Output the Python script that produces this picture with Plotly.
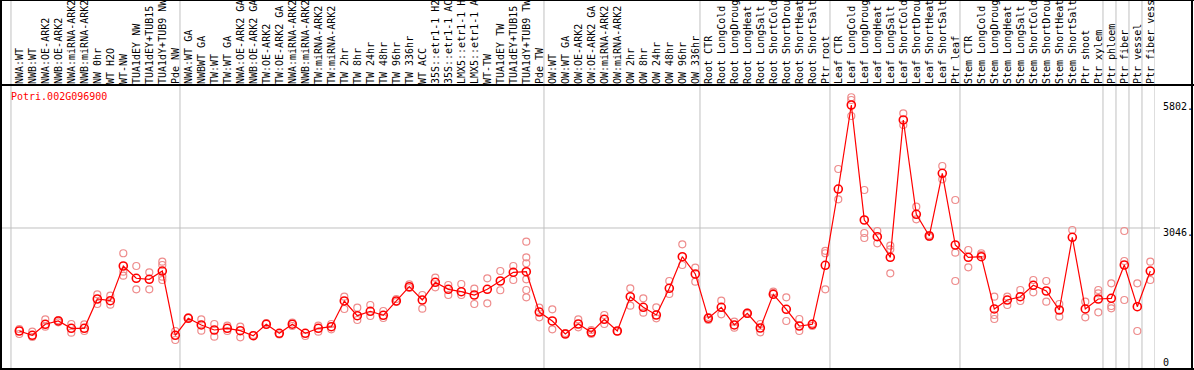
import plotly.graph_objects as go

title = "Potri.002G096900"

labels = [
    "NWA:WT", "NWB:WT", "NWA:OE-ARK2", "NWB:OE-ARK2", "NWA:miRNA-ARK2", "NWB:miRNA-ARK2",
    "NW 0hr", "WT H2O", "WT-NW", "TUA1dEY NW", "TUA1dEY+TUB15", "TUA1dY+TUB9 NW", "Pde NW",
    "NWA:WT GA", "NWBWT GA", "TW:WT", "TW:WT GA", "NWA:OE-ARK2 GA", "NWB:OE-ARK2 GA",
    "TW:OE-ARK2", "TW:OE-ARK2 GA", "NWA:miRNA-ARK2", "NWB:miRNA-ARK2", "TW:miRNA-ARK2",
    "TW:miRNA-ARK2", "TW 2hr", "TW 8hr", "TW 24hr", "TW 48hr", "TW 96hr", "TW 336hr",
    "WT ACC", "35S::etr1-1 H2", "35S::etr1-1 AC", "LMX5::etr1-1 H", "LMX5::etr1-1 A",
    "WT-TW", "TUA1dEY TW", "TUA1dEY+TUB15", "TUA1dY+TUB9 TW", "Pde TW",
    "OW:WT", "OW:WT GA", "OW:OE-ARK2", "OW:OE-ARK2 GA", "OW:miRNA-ARK2", "OW:miRNA-ARK2",
    "OW 2hr", "OW 8hr", "OW 24hr", "OW 48hr", "OW 96hr", "OW 336hr",
    "Root CTR", "Root LongCold", "Root LongDroug", "Root LongHeat", "Root LongSalt",
    "Root ShortCold", "Root ShortDrou", "Root ShortHeat", "Root ShortSalt", "Ptr root",
    "Leaf CTR", "Leaf LongCold", "Leaf LongDroug", "Leaf LongHeat", "Leaf LongSalt",
    "Leaf ShortCold", "Leaf ShortDrou", "Leaf ShortHeat", "Leaf ShortSalt", "Ptr leaf",
    "Stem CTR", "Stem LongCold", "Stem LongDroug", "Stem LongHeat", "Stem LongSalt",
    "Stem ShortCold", "Stem ShortDrou", "Stem ShortHeat", "Stem ShortSalt", "Ptr shoot",
    "Ptr xylem", "Ptr phloem", "Ptr fiber", "Ptr vessel", "Ptr fiber vess",
]

mean_values = [
    805, 711, 951, 1023, 864, 864, 1501, 1464, 2219, 1952, 1930, 2110, 711,
    1081, 936, 827, 864, 812, 703, 951, 755, 953, 755, 864, 899, 1458, 1138, 1234,
    1147, 1458, 1769, 1479, 1865, 1712, 1660, 1588, 1712, 1893, 2082, 2095, 1218,
    1023, 740, 957, 777, 1060, 805, 1551, 1321, 1153, 1734, 2422, 2045,
    1081, 1321, 936, 1190, 870, 1603, 1277, 914, 951, 2234,
    3894, 5722, 3220, 2857, 2408, 5396, 3344, 2872, 4236, 2676,
    2408, 2422, 1284, 1479, 1551, 1799, 1675, 1262, 2844, 1284,
    1501, 1516, 2241, 1334, 2110,
]

replicates = [
    [849, 740], [790, 674], [1060, 899], [994, 1040], [957, 768], [951, 805],
    [1603, 1392], [1573, 1377], [2496, 2008, 2095], [2219, 1712], [2082, 1712],
    [2313, 2241, 1986, 1915], [805, 609],
    [1103, 1088], [1060, 812], [957, 681], [920, 805], [899, 668], [718], [979], [729],
    [990, 914], [696], [920, 790], [957, 842], [1551, 1284], [1312, 1044], [1371, 1131],
    [1240, 1088], [1501, 1436], [1821, 1741], [1588, 1290], [1965, 1756], [1806, 1588],
    [1828, 1588], [1725, 1392], [1952, 1408], [2110, 1691], [2219, 1915],
    [2748, 2408, 2278, 1930, 1697, 1538], [1312, 1103],
    [1277, 842], [740, 762], [1060, 886], [827, 740], [1153, 957], [794],
    [1734, 1355], [1516, 1203], [1321, 1081], [1893, 1610], [2691, 2241], [2182, 1878],
    [1044, 1110], [1464, 1168], [1007, 877], [1208, 1175], [957, 777], [1660, 1632],
    [1538, 1023], [1066, 805], [968, 914], [2496, 2550, 1712],
    [4330, 3670], [5890, 5831, 5483], [3873, 2937, 2828], [2981, 2713],
    [2661, 2583, 2060], [5541, 5287], [3509, 3235], [2894, 2850], [4395, 4105],
    [3655, 2509, 1893],
    [2567, 2191], [2496, 2459], [1551, 1153, 1066], [1551, 1371], [1697, 1458],
    [1915, 1647], [1893, 1442], [1392, 1116], [3002], [1442, 1103],
    [1697, 1625, 1212], [1843, 1349, 1299], [2981, 2328, 1479], [1843, 805], [2313, 1915],
]

# group sizes (columns separated by gray vertical lines)
group_sizes = [13, 28, 12, 10, 10, 11, 1, 1, 1, 1]

tick_values = [5802, 3046, 0]
tick_text = ["5802.", "3046.", "0"]

# ---------------------------------------------------------------------------
W, H = 1194, 370
L, R, T, B = 1, 39, 85, 2
plot_w = W - L - R
plot_h = H - T - B
n = len(labels)
xs = list(range(n))

step = 13.0          # pixels per category
first_center = 19.3  # pixel of first category centre
sep_off = -0.14      # separators sit slightly left of the midpoints
x_lo = (L - first_center) / step
x_hi = (L + plot_w - first_center) / step
y_top = 6157


def px_x(p):
    return (p - L) / plot_w


def px_y(p):
    return (H - B - p) / plot_h


rep_x, rep_y = [], []
for i, reps in enumerate(replicates):
    for v in reps:
        rep_x.append(i)
        rep_y.append(v)

fig = go.Figure()
fig.add_trace(go.Scatter(
    x=rep_x, y=rep_y, mode="markers",
    marker=dict(symbol="circle-open", size=7, color="rgb(238,140,140)",
                line=dict(width=1.2, color="rgb(238,140,140)")),
    hoverinfo="skip", showlegend=False, cliponaxis=False,
))
fig.add_trace(go.Scatter(
    x=xs, y=mean_values, mode="lines+markers",
    line=dict(color="#ff0000", width=1.2),
    marker=dict(symbol="circle-open", size=8, color="#ff0000",
                line=dict(width=1.6, color="#ff0000")),
    showlegend=False, cliponaxis=False,
))

shapes = []
# gray separators
bounds = [-0.5]
acc = -0.5
for g in group_sizes:
    acc += g
    bounds.append(acc)
for b in bounds:
    shapes.append(dict(type="line", xref="x", yref="paper", x0=b + sep_off, x1=b + sep_off,
                       y0=px_y(368), y1=px_y(0), layer="below",
                       line=dict(color="#c0c0c0", width=1)))
# horizontal grid at middle tick
shapes.append(dict(type="line", xref="paper", yref="y", x0=px_x(1), x1=px_x(1160),
                   y0=tick_values[1], y1=tick_values[1], layer="below",
                   line=dict(color="#c0c0c0", width=1)))
# black frame
blk = dict(color="black", width=2)
shapes += [
    dict(type="line", xref="paper", yref="paper", x0=px_x(1), x1=px_x(1), y0=px_y(0), y1=px_y(370), line=blk),
    dict(type="line", xref="paper", yref="paper", x0=px_x(1192), x1=px_x(1192), y0=px_y(0), y1=px_y(370), line=blk),
    dict(type="line", xref="paper", yref="paper", x0=px_x(0), x1=px_x(1194), y0=px_y(85), y1=px_y(85), line=blk),
    dict(type="line", xref="paper", yref="paper", x0=px_x(0), x1=px_x(1194), y0=px_y(369), y1=px_y(369), line=blk),
    dict(type="line", xref="paper", yref="paper", x0=px_x(0), x1=px_x(1194), y0=px_y(0.5), y1=px_y(0.5),
         line=dict(color="black", width=1)),
]

mono = "DejaVu Sans Mono"
annotations = [
    dict(text=title, xref="paper", yref="paper", x=px_x(9), y=px_y(97),
         xanchor="left", yanchor="middle", showarrow=False,
         font=dict(family=mono, size=10, color="#ff0000")),
]
shifts = [-5, -5, 5.5]
for v, t, s in zip(tick_values, tick_text, shifts):
    annotations.append(dict(text=t, xref="paper", yref="y", x=px_x(1161), y=v, yshift=s,
                            xanchor="left", yanchor="middle", showarrow=False,
                            font=dict(family=mono, size=10, color="black")))

fig.update_layout(
    width=W, height=H,
    margin=dict(l=L, r=R, t=T, b=B, pad=0),
    paper_bgcolor="white", plot_bgcolor="white",
    shapes=shapes, annotations=annotations,
    xaxis=dict(range=[x_lo, x_hi], side="top", tickmode="array", tickvals=xs,
               ticktext=labels, tickangle=-90, ticks="", showgrid=False,
               zeroline=False, showline=False, automargin=False,
               tickfont=dict(family=mono, size=10, color="black")),
    yaxis=dict(range=[0, y_top], showticklabels=False, showgrid=False,
               zeroline=False, showline=False, ticks=""),
    hovermode=False,
)

fig.write_html(
    "out.html",
    config={"displayModeBar": False, "staticPlot": True},
    post_script="document.body.style.margin='0';document.body.style.overflow='hidden';",
)
